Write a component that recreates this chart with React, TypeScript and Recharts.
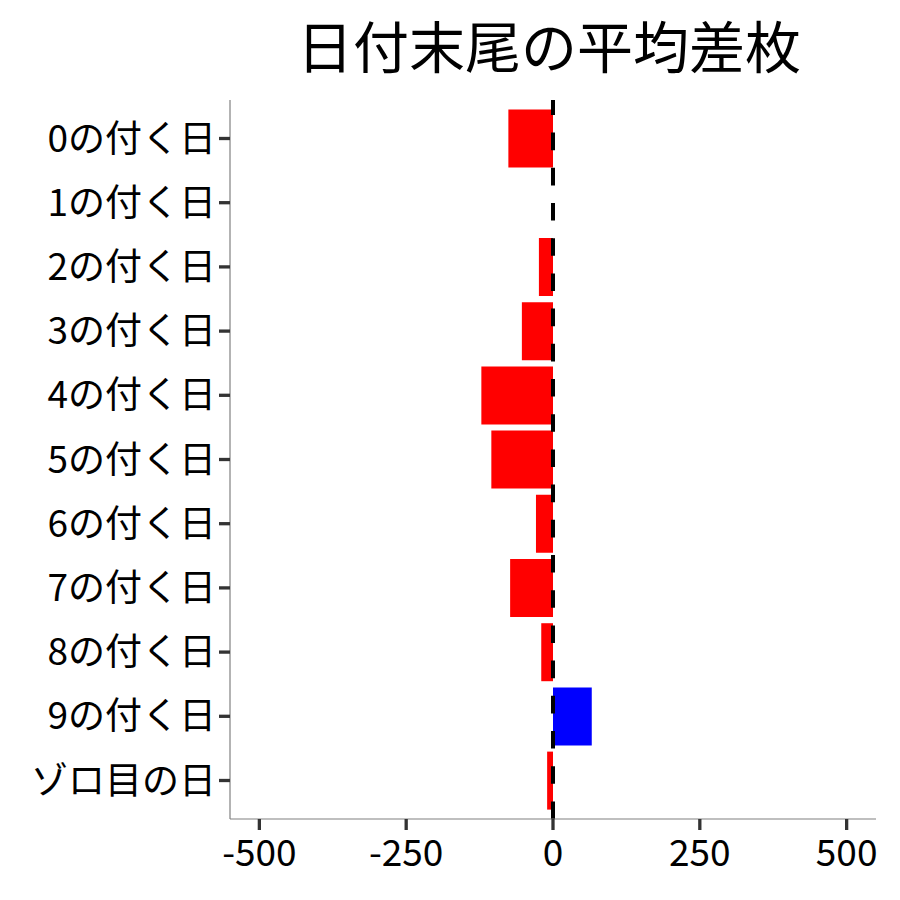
import React from "react";
import { BarChart, Bar, XAxis, YAxis, Cell, ReferenceLine } from "recharts";

const categories = [
  "0の付く日",
  "1の付く日",
  "2の付く日",
  "3の付く日",
  "4の付く日",
  "5の付く日",
  "6の付く日",
  "7の付く日",
  "8の付く日",
  "9の付く日",
  "ゾロ目の日",
];
const avgDiff = [-76, 0, -24, -53, -122, -105, -29, -73, -20, 66, -10];
const xTicks = [-500, -250, 0, 250, 500];
const titleText = "日付末尾の平均差枚";

const data = categories.map((label, i) => ({ label, value: avgDiff[i] }));

const FONT = '"Noto Sans CJK JP", "Noto Sans", sans-serif';

export default function App() {
  return (
    <div style={{ position: "absolute", left: 0, top: 0, width: 900, height: 900, background: "#fff" }}>
      <div
        style={{
          position: "absolute",
          left: 226,
          width: 646,
          top: 16,
          textAlign: "center",
          fontFamily: FONT,
          fontSize: 56,
          lineHeight: "56px",
          color: "#000",
          whiteSpace: "nowrap",
        }}
      >
        {titleText}
      </div>
      <BarChart
        width={900}
        height={900}
        data={data}
        layout="vertical"
        margin={{ top: 100, right: 24, bottom: 0, left: 0 }}
        barCategoryGap="5%"
      >
        <XAxis
          type="number"
          domain={[-550, 550]}
          ticks={xTicks}
          allowDataOverflow
          height={81}
          tickSize={11}
          tickMargin={10}
          axisLine={{ stroke: "#808080", strokeWidth: 1.2 }}
          tickLine={{ stroke: "#333333", strokeWidth: 3.3 }}
          tick={{ fill: "#000", fontSize: 37, fontFamily: FONT }}
        />
        <YAxis
          type="category"
          dataKey="label"
          width={230}
          padding={{ top: 6.4, bottom: 6.4 }}
          tickSize={11}
          tickMargin={3}
          interval={0}
          axisLine={{ stroke: "#808080", strokeWidth: 1.2 }}
          tickLine={{ stroke: "#333333", strokeWidth: 3.3 }}
          tick={{ fill: "#000", fontSize: 37, fontFamily: FONT }}
        />
        <Bar dataKey="value" isAnimationActive={false}>
          {data.map((d, i) => (
            <Cell key={i} fill={d.value >= 0 ? "#0000FF" : "#FF0000"} />
          ))}
        </Bar>
        <ReferenceLine x={0} stroke="#000" strokeWidth={4} strokeDasharray="17.6 17.6" />
      </BarChart>
    </div>
  );
}
